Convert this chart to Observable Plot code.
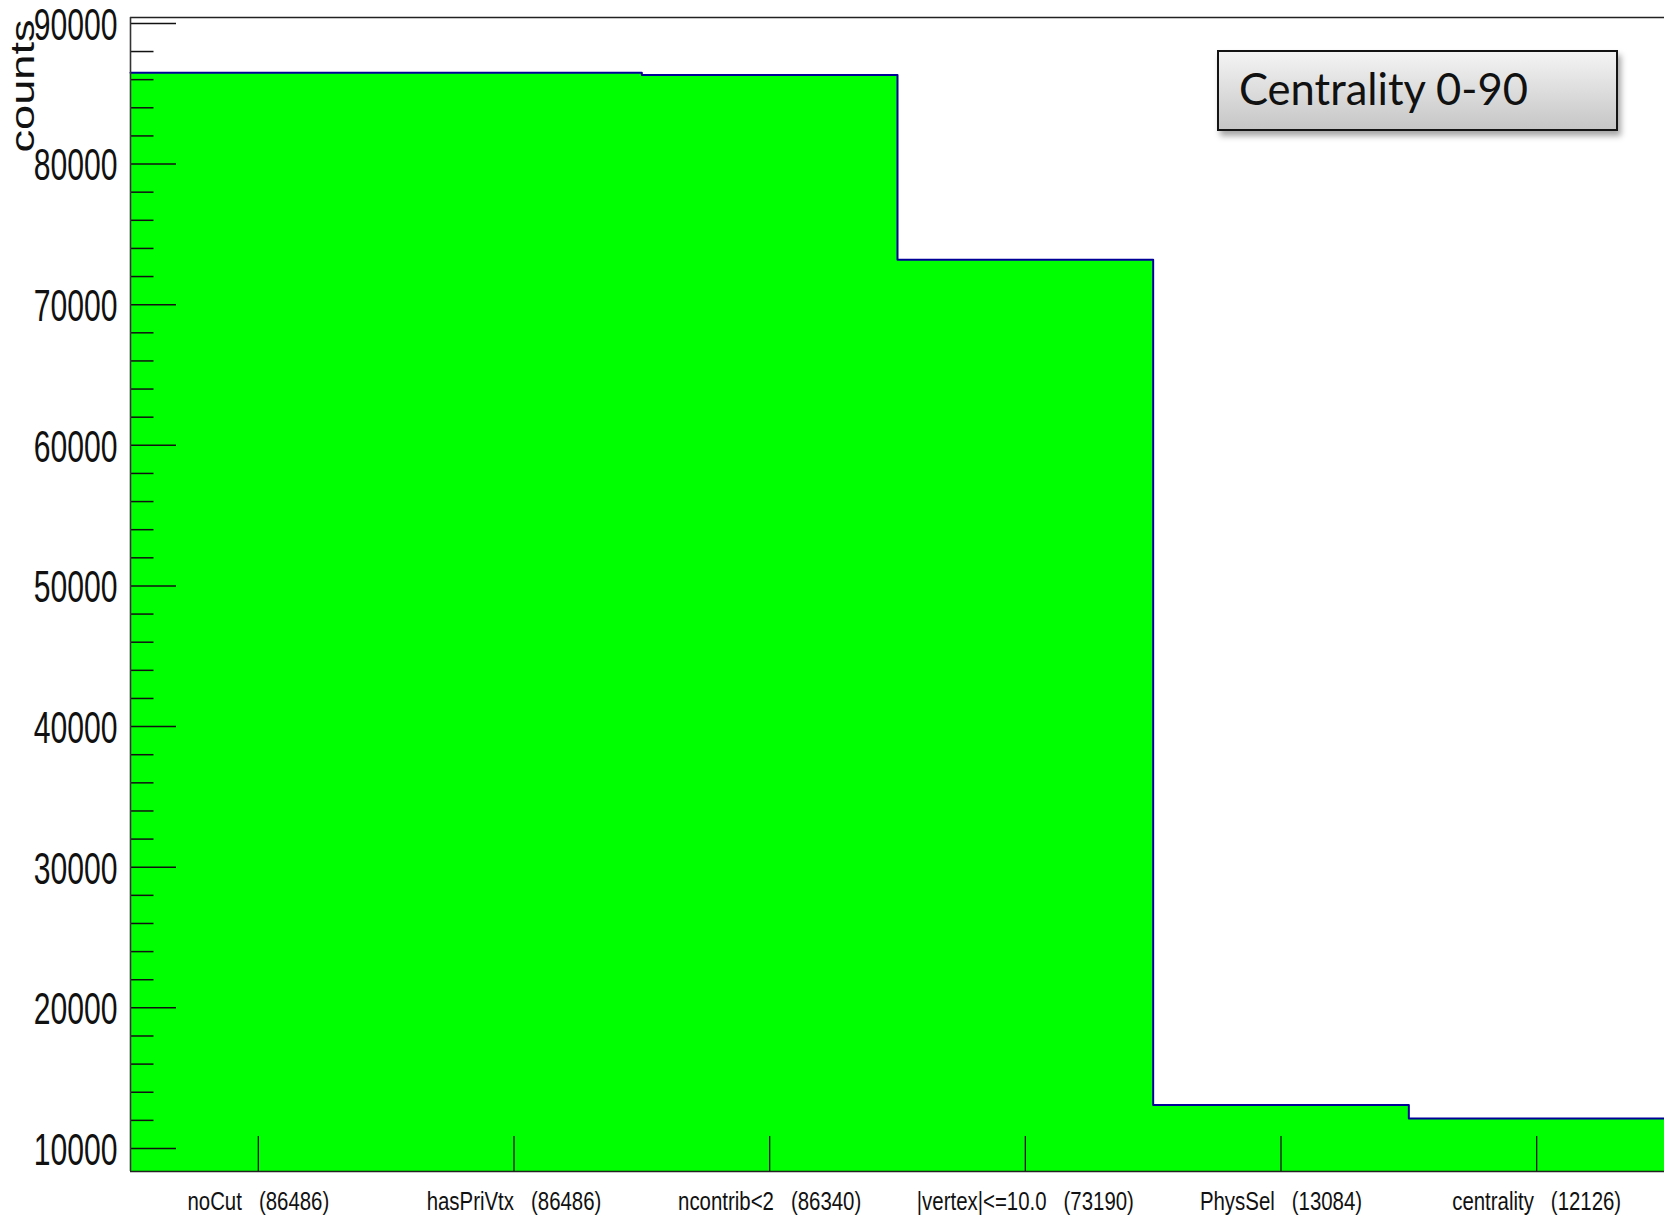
<!DOCTYPE html>
<html>
<head>
<meta charset="utf-8">
<script src="https://cdn.jsdelivr.net/npm/d3@7"></script>
<script src="https://cdn.jsdelivr.net/npm/@observablehq/plot@0.6"></script>
<style>
  html, body { margin: 0; padding: 0; background: #fff; }
  #wrap { position: relative; width: 1664px; height: 1219px; overflow: hidden; }
  #wrap svg text { white-space: pre; }
  #legend {
    position: absolute; left: 1217px; top: 50px; width: 401px; height: 81px;
    box-sizing: border-box; border: 2px solid #141414;
    background: linear-gradient(#f4f4f4, #c6c6c6);
    box-shadow: 3px 5px 6px rgba(0,0,0,0.35);
    font-family: Lato, "Open Sans", sans-serif; font-size: 43.5px; color: #111;
    line-height: 77px; padding-left: 20px; white-space: nowrap;
  }
  #legend span { position: relative; top: -2px; }
</style>
</head>
<body>
<div id="wrap">
  <div id="legend"><span>Centrality 0-90</span></div>
</div>
<script>
// ---- data ----
const cuts = ["noCut", "hasPriVtx", "ncontrib<2", "|vertex|<=10.0", "PhysSel", "centrality"];
const counts = [86486, 86486, 86340, 73190, 13084, 12126];
const yTickValues = [10000, 20000, 30000, 40000, 50000, 60000, 70000, 80000, 90000];
const yAxisTitle = "counts";
const legendText = "Centrality 0-90";

// ---- layout ----
const W = 1664, H = 1219;
const yDomain = [8364, 90420];
const nBins = cuts.length;

const xLabels = cuts.map((c, i) => `${c}   (${counts[i]})`);
const rows = cuts.map((c, i) => ({i, cut: c, count: counts[i]}));
const stepPts = [...rows.map(r => ({x: r.i, y: r.count})), {x: nBins, y: counts[nBins - 1]}];
const xTickPos = rows.map(r => r.i + 0.5);
const yMinor = d3.range(10000, 90001, 2000).filter(v => v % 10000 !== 0);

const mL = 130, mR = 0, mT = 17, mB = 48;
const plotW = W - mL - mR, plotH = H - mT - mB;

const chart = Plot.plot({
  width: W, height: H,
  marginLeft: mL, marginRight: mR, marginTop: mT, marginBottom: mB,
  style: {fontFamily: "'Liberation Sans', Arial, sans-serif", background: "white", overflow: "visible"},
  x: {type: "linear", domain: [0, nBins]},
  y: {type: "linear", domain: yDomain},
  marks: [
    Plot.areaY(stepPts, {x: "x", y1: yDomain[0], y2: "y", curve: "step-after", fill: "#00ff00"}),
    Plot.lineY(stepPts, {x: "x", y: "y", curve: "step-after", stroke: "#000099", strokeWidth: 2}),
    // y ticks (inside)
    Plot.ruleY(yTickValues, {y: d => d, stroke: "#111", strokeWidth: 1.5, insetRight: plotW - 46}),
    Plot.ruleY(yMinor, {y: d => d, stroke: "#111", strokeWidth: 1.5, insetRight: plotW - 23.5}),
    // x ticks (inside)
    Plot.ruleX(xTickPos, {x: d => d, stroke: "#111", strokeWidth: 1.3, insetTop: plotH - 35}),
    // frame
    Plot.ruleY([yDomain[1]], {y: d => d, stroke: "#222", strokeWidth: 1.6}),
    Plot.ruleY([yDomain[0]], {y: d => d, stroke: "#222", strokeWidth: 1.6}),
    Plot.ruleX([0], {x: d => d, stroke: "#333", strokeWidth: 1.6}),
    // axes labels
    Plot.axisY({ticks: yTickValues, tickSize: 0, tickPadding: 13, tickFormat: d => String(d), fontSize: 45, dy: 2, label: null, fill: "#111"}),
    Plot.axisX({ticks: xTickPos, tickSize: 0, tickPadding: 20, tickFormat: d => xLabels[Math.floor(d)], fontSize: 26.5, label: null, fill: "#111"}),
    Plot.text([yAxisTitle], {frameAnchor: "top-left", rotate: -90, textAnchor: "end", lineAnchor: "bottom", dx: -97, dy: 2, fontSize: 33, fill: "#111"})
  ]
});
chart.style.position = "absolute";
chart.style.left = "0px";
chart.style.top = "0px";
const wrap = document.getElementById("wrap");
wrap.insertBefore(chart, wrap.firstChild);

function squeeze(sel, f) {
  d3.select(chart).selectAll(sel).each(function() {
    const w = this.getComputedTextLength();
    this.setAttribute("textLength", (w * f).toFixed(2));
    this.setAttribute("lengthAdjust", "spacingAndGlyphs");
  });
}
squeeze('g[aria-label="y-axis tick label"] text', 0.67);
squeeze('g[aria-label="x-axis tick label"] text', 0.77);
d3.select(chart).selectAll("text").filter(function() { return this.textContent === yAxisTitle; })
  .attr("textLength", 133).attr("lengthAdjust", "spacingAndGlyphs");
document.querySelector("#legend span").textContent = legendText;
</script>
</body>
</html>
